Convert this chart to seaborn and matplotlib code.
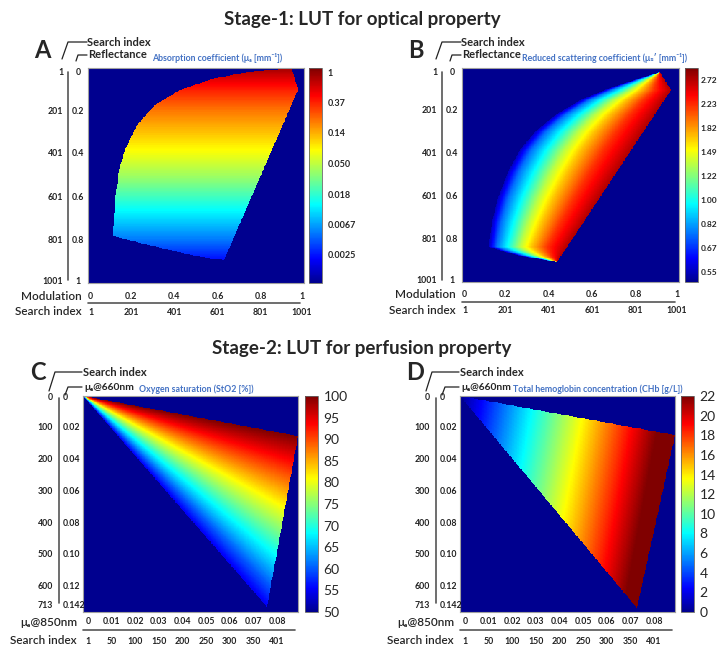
import numpy as np
import matplotlib
matplotlib.use("Agg")
import matplotlib.pyplot as plt
import seaborn as sns
from matplotlib.path import Path
from matplotlib.lines import Line2D
from matplotlib import transforms
from matplotlib.colors import LinearSegmentedColormap

# ---------------- values ----------------
# A: absorption coefficient, changes mainly with reflectance (rows)
a_refl = [0.0, 0.1, 0.2, 0.3, 0.4, 0.5, 0.6, 0.7, 0.8, 0.9, 1.0]
a_mua = [0.9, 0.38, 0.2, 0.12, 0.07, 0.04, 0.02, 0.01, 0.005, 0.0022, 0.001]
# outline of the valid part of the LUT (modulation, reflectance)
a_edge_mod = [0.944, 0.972, 0.630, 0.519, 0.380, 0.241, 0.116, 0.125, 0.144,
              0.171, 0.227, 0.310, 0.426, 0.588, 0.773]
a_edge_refl = [0.005, 0.102, 0.893, 0.879, 0.847, 0.814, 0.781, 0.614, 0.474,
               0.381, 0.265, 0.172, 0.102, 0.047, 0.014]
a_cbar_ticks = [1, 0.37, 0.14, 0.050, 0.018, 0.0067, 0.0025]
a_cbar_labels = ["1", "0.37", "0.14", "0.050", "0.018", "0.0067", "0.0025"]

# B: reduced scattering, grows from the left border to the right border
b_left_refl = [0.019, 0.047, 0.093, 0.150, 0.220, 0.299, 0.383, 0.486, 0.607,
               0.720, 0.836, 0.860, 0.883, 0.897, 0.907]
b_left_mod = [0.912, 0.820, 0.682, 0.544, 0.429, 0.336, 0.267, 0.212, 0.166,
              0.138, 0.124, 0.198, 0.290, 0.382, 0.438]
b_right_refl = [0.019, 0.103, 0.907]
b_right_mod = [0.912, 0.963, 0.438]
b_frac = [0.0, 0.1, 0.25, 0.4, 0.55, 0.75, 1.0]
b_musp = [0.55, 0.75, 1.0, 1.35, 1.7, 2.2, 2.75]
b_cbar_ticks = [2.72, 2.23, 1.82, 1.49, 1.22, 1.00, 0.82, 0.67, 0.55]
b_cbar_labels = ["2.72", "2.23", "1.82", "1.49", "1.22", "1.00", "0.82", "0.67", "0.55"]

# stage 1 axes
mod_ticks = [0, 0.2, 0.4, 0.6, 0.8, 1]
mod_labels = ["0", "0.2", "0.4", "0.6", "0.8", "1"]
refl_ticks = [0, 0.2, 0.4, 0.6, 0.8, 1]
refl_labels = ["0", "0.2", "0.4", "0.6", "0.8", "1"]
idx_labels_1 = ["1", "201", "401", "601", "801", "1001"]

# C: oxygen saturation, constant along lines through the origin (ratio mua660/mua850)
c_ratio = [0.28, 0.56, 0.85, 1.17, 1.51, 1.89]
c_sto2 = [100, 90, 80, 70, 60, 50]
c_corner_850 = [0.0, 0.091, 0.0779]
c_corner_660 = [0.0, 0.0252, 0.1328]

# D: total hemoglobin, constant along slightly tilted lines
d_level = [0.0, 0.02, 0.04, 0.06, 0.08, 0.10]
d_chb = [0.0, 5.1, 10.2, 15.3, 20.4, 25.5]
d_tilt = 0.126
d_corner_850 = [0.0, 0.091, 0.0749]
d_corner_660 = [0.0, 0.0246, 0.1335]

# stage 2 axes
mua850_max, mua660_max = 0.091, 0.136
mua850_ticks = [0, 0.01, 0.02, 0.03, 0.04, 0.05, 0.06, 0.07, 0.08]
mua850_labels = ["0", "0.01", "0.02", "0.03", "0.04", "0.05", "0.06", "0.07", "0.08"]
idx_labels_x = ["1", "50", "100", "150", "200", "250", "300", "350", "401"]
mua660_ticks = [0, 0.02, 0.04, 0.06, 0.08, 0.10, 0.12, 0.142]
mua660_labels = ["0", "0.02", "0.04", "0.06", "0.08", "0.10", "0.12", "0.142"]
idx_labels_y = ["0", "100", "200", "300", "400", "500", "600", "713"]
sto2_ticks = list(range(50, 101, 5))
chb_ticks = list(range(0, 23, 2))

# ---------------- style ----------------
sns.set_theme(style="white")
plt.rcParams["font.family"] = ["Lato", "DejaVu Sans"]
W, H = 719, 648
N = 300
# matlab-like jet (slightly brighter navy end than matplotlib's)
jet = LinearSegmentedColormap.from_list("mjet", [
    (0.0, (0, 0, 0.5625)), (0.111, (0, 0, 1)), (0.365, (0, 1, 1)),
    (0.619, (1, 1, 0)), (0.873, (1, 0, 0)), (1.0, (0.5, 0, 0))])
BLUE_TXT = "#4472c4"

fig = plt.figure(figsize=(W / 100, H / 100), dpi=100)


def box(x0, y0, x1, y1):
    return fig.add_axes([x0 / W, 1 - y1 / H, (x1 - x0) / W, (y1 - y0) / H])


def ftext(x, y, s, **kw):
    fig.text(x / W, 1 - y / H, s, **kw)


def fline(xs, ys, lw=0.9, color="#222222"):
    fig.add_artist(Line2D([x / W for x in xs], [1 - y / H for y in ys],
                          transform=fig.transFigure, color=color, lw=lw))


def inside(xs, ys, X, Y):
    p = Path(np.column_stack([xs, ys]))
    return p.contains_points(np.column_stack([X.ravel(), Y.ravel()])).reshape(X.shape)


def draw(ax, cax, field, mask, vmin, vmax, ticks, labels, cb_size, cb_weight, pad):
    sns.heatmap(field, mask=mask, cmap=jet, vmin=vmin, vmax=vmax, ax=ax,
                cbar_ax=cax, xticklabels=False, yticklabels=False)
    ax.set_facecolor(jet(0.0))
    for sp in ax.spines.values():
        sp.set_visible(True)
        sp.set_color("#a0a0a0")
        sp.set_linewidth(0.8)
    cb = ax.collections[0].colorbar
    cb.set_ticks(ticks)
    cb.set_ticklabels(labels)
    cb.outline.set_edgecolor("#666666")
    cb.outline.set_linewidth(0.6)
    cax.tick_params(length=0, pad=pad, labelsize=cb_size)
    for t in cax.get_yticklabels():
        t.set_fontweight(cb_weight)


def left_col(ax, pos, labels, dx, ha, size=6.3):
    tr = transforms.offset_copy(
        transforms.blended_transform_factory(ax.transAxes, ax.transData),
        fig=fig, x=dx, y=0, units="dots")
    for p, s in zip(pos, labels):
        ax.text(0, p, s, transform=tr, ha=ha, va="center", fontsize=size,
                fontweight="bold", color="#222222", clip_on=False)


def bottom_row(ax, pos, labels, dy, dx=0, size=6.3):
    tr = transforms.offset_copy(
        transforms.blended_transform_factory(ax.transData, ax.transAxes),
        fig=fig, x=dx, y=dy, units="dots")
    for p, s in zip(pos, labels):
        ax.text(p, 0, s, transform=tr, ha="center", va="center", fontsize=size,
                fontweight="bold", color="#222222", clip_on=False)


g = (np.arange(N) + 0.5) / N
M, R = np.meshgrid(g, g)

# ---------------- stage 1 ----------------
field_a = np.interp(R, a_refl, np.log(a_mua))
mask_a = ~inside(a_edge_mod, a_edge_refl, M, R)

mL = np.interp(R, b_left_refl, b_left_mod)
mR = np.interp(R, b_right_refl, b_right_mod)
U = np.clip((M - mL) / np.maximum(mR - mL, 1e-6), 0, 1)
field_b = np.interp(U, b_frac, np.log(b_musp))
mask_b = ~inside(b_left_mod + b_right_mod[::-1][1:2],
                 b_left_refl + b_right_refl[::-1][1:2], M, R)

stage1 = [
    dict(box=(88, 68, 304, 283), cbox=(309, 68, 322, 283), dx=0, letter="A",
         field=field_a, mask=mask_a, vmin=-6.93, vmax=0.15,
         ticks=np.log(a_cbar_ticks), labels=a_cbar_labels, cbs=6.5, pad=4,
         title="Absorption coefficient (μₐ [mm⁻¹])", tx=152),
    dict(box=(462, 68, 679, 282), cbox=(685, 68, 698, 282), dx=374, letter="B",
         field=field_b, mask=mask_b, vmin=-0.68, vmax=1.10,
         ticks=np.log(b_cbar_ticks), labels=b_cbar_labels, cbs=6, pad=2,
         title="Reduced scattering coefficient (μₛ′ [mm⁻¹])", tx=522),
]

for p in stage1:
    x0, y0, x1, y1 = p["box"]
    ax = box(*p["box"])
    cax = box(*p["cbox"])
    draw(ax, cax, p["field"], p["mask"], p["vmin"], p["vmax"],
         p["ticks"], p["labels"], p["cbs"], "bold", p["pad"])
    ypos = np.clip(np.array(refl_ticks) * N, 0.02 * N, 0.995 * N)
    left_col(ax, ypos, idx_labels_1, -25, "right")
    left_col(ax, ypos, refl_labels, -10, "center")
    xpos = np.clip(np.array(mod_ticks) * N, 0.012 * N, 0.99 * N)
    bottom_row(ax, xpos, mod_labels, -13)
    bottom_row(ax, xpos, idx_labels_1, -29)
    d = p["dx"]
    fline([68 + d, 68 + d], [72, 280], lw=1.2, color="#555555")
    fline([x0, x1 - 4], [y1 + 20, y1 + 20], lw=1.2, color="#555555")
    ftext(x0 - 6, y1 + 13, "Modulation", ha="right", va="center", fontsize=8.5,
          fontweight="semibold")
    ftext(x0 - 6, y1 + 29, "Search index", ha="right", va="center", fontsize=8.5,
          fontweight="semibold")
    ftext(42 + d, 50, p["letter"], ha="center", va="center", fontsize=17,
          fontweight="bold")
    fline([62 + d, 68 + d, 87 + d], [59, 42, 42])
    fline([76 + d, 78 + d, 87 + d], [61, 55, 55])
    ftext(x0 - 1, 42, "Search index", ha="left", va="center", fontsize=8,
          fontweight="bold")
    ftext(x0, 55, "Reflectance", ha="left", va="center", fontsize=8,
          fontweight="bold")
    ftext(p["tx"], 58, p["title"], ha="left", va="center", fontsize=6.3,
          fontweight="bold", color=BLUE_TXT)

ftext(362, 20, "Stage-1: LUT for optical property", ha="center", va="center",
      fontsize=13.5, fontweight="bold")

# ---------------- stage 2 ----------------
X = M * mua850_max
Y = R * mua660_max
field_c = np.interp(Y / np.maximum(X, 1e-9), c_ratio, c_sto2)
mask_c = ~inside(c_corner_850, c_corner_660, X, Y)
field_d = np.interp(X + d_tilt * Y, d_level, d_chb)
mask_d = ~inside(d_corner_850, d_corner_660, X, Y)

stage2 = [
    dict(box=(83, 396, 298, 612), cbox=(305, 396, 318, 612), dx=0, letter="C",
         field=field_c, mask=mask_c, vmin=50, vmax=100, ticks=sto2_ticks,
         title="Oxygen saturation (StO2 [%])", tx=139),
    dict(box=(460, 396, 675, 612), cbox=(681, 396, 694, 612), dx=377, letter="D",
         field=field_d, mask=mask_d, vmin=0, vmax=22, ticks=chb_ticks,
         title="Total hemoglobin concentration (CHb [g/L])", tx=513),
]

for p in stage2:
    x0, y0, x1, y1 = p["box"]
    ax = box(*p["box"])
    cax = box(*p["cbox"])
    draw(ax, cax, p["field"], p["mask"], p["vmin"], p["vmax"],
         p["ticks"], [str(t) for t in p["ticks"]], 10, "normal", 4)
    ypos = np.clip(np.array(mua660_ticks) / mua660_max * N, 0.009 * N, 0.972 * N)
    left_col(ax, ypos, idx_labels_y, -30, "right")
    left_col(ax, ypos, mua660_labels, -20, "left")
    xpos = np.array(mua850_ticks) / mua850_max * N
    bottom_row(ax, xpos, mua850_labels, -10, dx=5)
    bottom_row(ax, xpos, idx_labels_x, -29, dx=5)
    d = p["dx"]
    fline([59 + d, 59 + d], [398, 603], lw=1.2, color="#555555")
    fline([x0, x1 - 3], [y1 + 18, y1 + 18], lw=1.2, color="#555555")
    ftext(x0 - 6, y1 + 10, "μₐ@850nm", ha="right", va="center", fontsize=8.5,
          fontweight="semibold")
    ftext(x0 - 6, y1 + 29, "Search index", ha="right", va="center", fontsize=8.5,
          fontweight="semibold")
    ftext(38 + d, 372, p["letter"], ha="center", va="center", fontsize=17,
          fontweight="bold")
    fline([49 + d, 55 + d, 82 + d], [391, 372, 372])
    fline([65 + d, 68 + d, 82 + d], [395, 387, 387])
    ftext(x0, 372, "Search index", ha="left", va="center", fontsize=8,
          fontweight="bold")
    ftext(x0 + 1, 387, "μₐ@660nm", ha="left", va="center", fontsize=7.4,
          fontweight="bold")
    ftext(p["tx"], 389, p["title"], ha="left", va="center", fontsize=6.3,
          fontweight="bold", color=BLUE_TXT)

ftext(362, 348, "Stage-2: LUT for perfusion property", ha="center", va="center",
      fontsize=13.5, fontweight="bold")

fig.savefig("out.png", dpi=100)
